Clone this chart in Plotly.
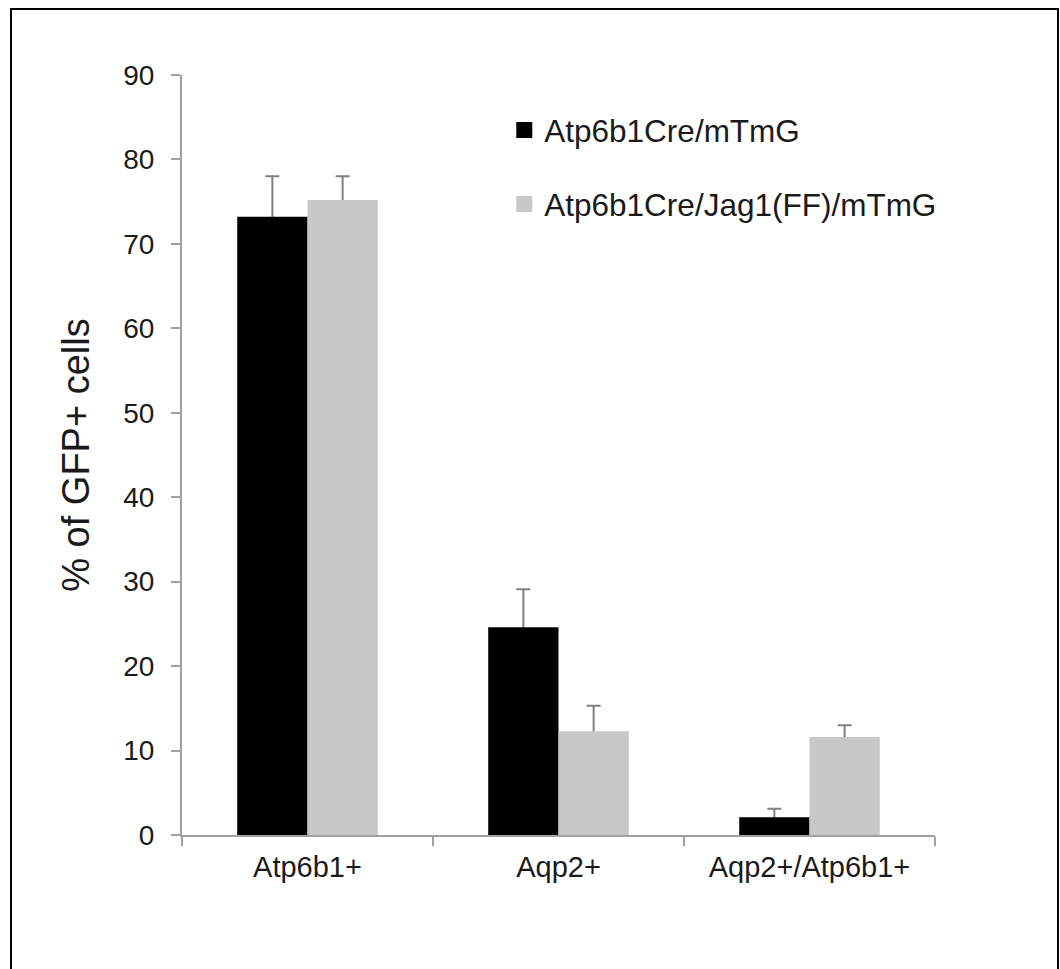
import plotly.graph_objects as go

categories = ["Atp6b1+", "Aqp2+", "Aqp2+/Atp6b1+"]
series_names = ["Atp6b1Cre/mTmG", "Atp6b1Cre/Jag1(FF)/mTmG"]
ctrl_values = [73.2, 24.6, 2.1]
ctrl_errors = [4.8, 4.5, 1.0]
ko_values = [75.2, 12.3, 11.6]
ko_errors = [2.8, 3.0, 1.4]
colors = ["#000000", "#c8c8c8"]
y_ticks = [0, 10, 20, 30, 40, 50, 60, 70, 80, 90]

FONT = "Liberation Sans, Arial, sans-serif"
series = [(series_names[0], ctrl_values, ctrl_errors, colors[0], "ctrl"),
          (series_names[1], ko_values, ko_errors, colors[1], "ko")]

fig = go.Figure()
# error bars first (symmetric, lower half hidden behind the bars drawn afterwards)
for name, vals, errs, col, grp in series:
    fig.add_trace(go.Bar(
        x=categories, y=vals, offsetgroup=grp, showlegend=False, hoverinfo="skip",
        marker=dict(color="rgba(0,0,0,0)", line=dict(width=0)),
        error_y=dict(type="data", array=errs, symmetric=True,
                     color="#808080", thickness=2, width=7)))
for name, vals, errs, col, grp in series:
    fig.add_trace(go.Bar(
        x=categories, y=vals, name=name, offsetgroup=grp, showlegend=False,
        marker=dict(color=col, line=dict(width=0))))

# legend entries
for i, (name, col) in enumerate(zip(series_names, colors)):
    fig.add_trace(go.Scatter(
        x=[None], y=[None], mode="markers", name=name,
        marker=dict(symbol="square", size=18, color=col),
        legend="legend" if i == 0 else "legend2"))

W, H = 1060, 969
L, T, R, B = 182, 75, 125, 134
plot_h = H - T - B
plot_w = W - L - R
y0_px = T + plot_h  # pixel row of y = 0

fig.update_layout(
    width=W, height=H,
    margin=dict(l=L, r=R, t=T, b=B),
    paper_bgcolor="white", plot_bgcolor="white",
    barmode="group", bargap=0.44, bargroupgap=0,
    font=dict(family=FONT, color="#1a1a1a", size=28),
    legend=dict(x=0.428, y=(y0_px - 130) / plot_h, xanchor="left", yanchor="middle",
                font=dict(size=31.5, family=FONT, color="#1a1a1a"), bgcolor="rgba(0,0,0,0)"),
    legend2=dict(x=0.428, y=(y0_px - 204) / plot_h, xanchor="left", yanchor="middle",
                 font=dict(size=31.5, family=FONT, color="#1a1a1a"), bgcolor="rgba(0,0,0,0)"),
    xaxis=dict(range=[-0.5, 2.5], showline=True, linecolor="#a0a0a0", linewidth=2,
               ticks="outside", tickson="boundaries", ticklen=9, tickcolor="#a0a0a0",
               tickwidth=2, tickfont=dict(size=29), showgrid=False, zeroline=False,
               ticklabelstandoff=5),
    yaxis=dict(range=[0, 90], tickvals=y_ticks, showline=True, linecolor="#a0a0a0",
               linewidth=2, ticks="outside", ticklen=9, tickcolor="#a0a0a0", tickwidth=2,
               tickfont=dict(size=28), showgrid=False, zeroline=False,
               ticklabelstandoff=11,
               title=dict(text="% of GFP+ cells", font=dict(size=38), standoff=22)),
    shapes=[dict(type="rect", xref="paper", yref="paper",
                 x0=(11 - L) / plot_w, x1=(1058 - L) / plot_w,
                 y0=(y0_px - 990) / plot_h, y1=(y0_px - 9) / plot_h,
                 line=dict(color="#000000", width=2), fillcolor="rgba(0,0,0,0)", layer="below")],
)

fig.write_html("out.html", config={"displayModeBar": False},
               post_script="document.body.style.margin='0';document.body.style.overflow='hidden';")
